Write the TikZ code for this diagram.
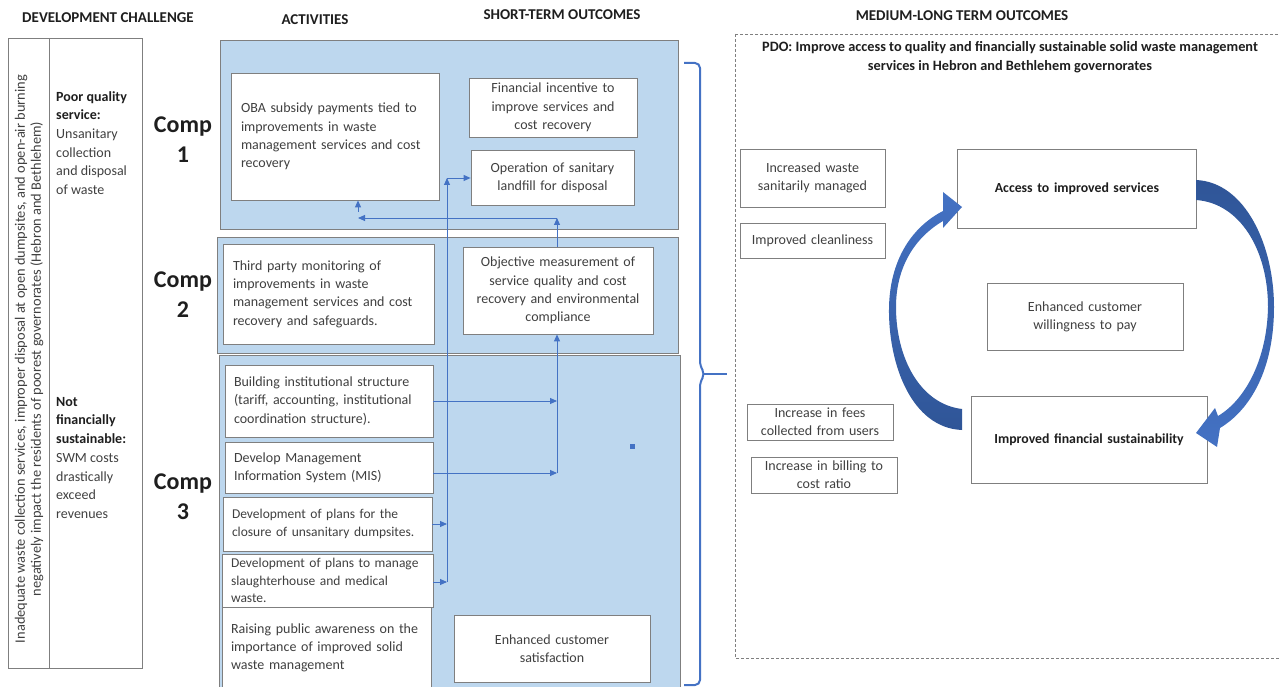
\documentclass[tikz,border=0pt]{standalone}
\usepackage{fontspec}
\setmainfont{Carlito}
\usetikzlibrary{arrows.meta}
\definecolor{panelblue}{RGB}{189,215,238}
\definecolor{linkblue}{RGB}{68,114,196}
\definecolor{loopdark}{RGB}{47,85,151}
\definecolor{boxgray}{RGB}{127,127,127}
\definecolor{txtgray}{RGB}{64,64,64}
\definecolor{darktxt}{RGB}{30,30,30}
\begin{document}
\begin{tikzpicture}
[x=1pt,y=-1pt,every node/.style={inner sep=0pt},
 head/.style={font=\bfseries\fontsize{15}{17}\selectfont,text=darktxt},
 comp/.style={font=\bfseries\fontsize{24}{30}\selectfont,align=center,text=darktxt},
 panel/.style={draw=boxgray,fill=panelblue,line width=0.8pt},
 abox/.style={draw=boxgray,fill=white,line width=0.8pt,text=txtgray,font=\fontsize{14}{18.3}\selectfont,align=left},
 obox/.style={abox,align=center},
 link/.style={draw=linkblue,line width=0.9pt,-{Triangle[length=7pt,width=6pt]}},
 bar/.style={draw=linkblue,line width=0.9pt}]
\useasboundingbox (0,0) rectangle (1280,687);

\node[head] (hdev) at (108,18) {DEVELOPMENT CHALLENGE};
\node[head] (hact) at (315,20) {ACTIVITIES};
\node[head] (hshort) at (562,15) {SHORT-TERM OUTCOMES};
\node[head] (hlong) at (962,16) {MEDIUM-LONG TERM OUTCOMES};

% development challenge
\draw[boxgray,line width=0.8pt] (8,38) rectangle (142,668);
\draw[boxgray,line width=0.8pt] (49,38) -- (49,668);
\node[rotate=90,align=center,text=txtgray,font=\fontsize{14.4}{16}\selectfont] (problem) at (29,359)
 {Inadequate waste collection services, improper disposal at open dumpsites, and open-air burning\\negatively impact the residents of poorest governorates (Hebron and Bethlehem)};
\node[anchor=north west,align=left,text=txtgray,font=\fontsize{14}{18.7}\selectfont] (poor) at (56,91)
 {{\color{darktxt}\bfseries Poor quality}\\{\color{darktxt}\bfseries service:}\\Unsanitary\\collection\\and disposal\\of waste};
\node[anchor=north west,align=left,text=txtgray,font=\fontsize{14}{18.7}\selectfont] (notfin) at (56,397)
 {{\color{darktxt}\bfseries Not}\\{\color{darktxt}\bfseries financially}\\{\color{darktxt}\bfseries sustainable:}\\SWM costs\\drastically\\exceed\\revenues};

\node[comp] (c1) at (183,140) {Comp\\1};
\node[comp] (c2) at (183,295) {Comp\\2};
\node[comp] (c3) at (183,497) {Comp\\3};

% component panels
\draw[panel] (220,40) rectangle (678,229);
\draw[panel] (217,237) rectangle (678,353);
\draw[panel] (219,355) rectangle (680,692);

\node[abox,minimum width=208,minimum height=127,text width=188] (oba) at (335,136.5)
 {OBA subsidy payments tied to\\improvements in waste\\management services and cost\\recovery};
\node[obox,minimum width=168,minimum height=59,text width=160] (incent) at (553,107.5)
 {Financial incentive to\\improve services and\\cost recovery};
\node[obox,minimum width=163,minimum height=55,text width=155] (landfill) at (552.5,177.5)
 {Operation of sanitary\\landfill for disposal};
\node[abox,minimum width=211,minimum height=100,text width=191] (third) at (328.5,294)
 {Third party monitoring of\\improvements in waste\\management services and cost\\recovery and safeguards.};
\node[obox,minimum width=190,minimum height=87,text width=182] (measure) at (558,290.5)
 {Objective measurement of\\service quality and cost\\recovery and environmental\\compliance};
\node[abox,minimum width=208,minimum height=72,text width=190] (inst) at (329,401)
 {Building institutional structure\\(tariff, accounting, institutional\\coordination structure).};
\node[abox,minimum width=208,minimum height=51,text width=190] (mis) at (329,467.5)
 {Develop Management\\Information System (MIS)};
\node[abox,minimum width=209,minimum height=54,text width=191,font=\fontsize{13.5}{17.7}\selectfont] (dumps) at (327.5,524)
 {Development of plans for the\\closure of unsanitary dumpsites.};
\node[abox,minimum width=211,minimum height=53,text width=193,font=\fontsize{13.5}{17.7}\selectfont] (slaught) at (327.5,580.5)
 {Development of plans to manage\\slaughterhouse and medical\\waste.};
\node[abox,minimum width=209,minimum height=82,text width=191] (aware) at (326.5,648)
 {Raising public awareness on the\\importance of improved solid\\waste management};
\node[obox,minimum width=196,minimum height=67,text width=186] (satisf) at (552,648.5)
 {Enhanced customer\\satisfaction};
\node[fill=linkblue,minimum size=5pt] (dot) at (632,446) {};

% links between activities and outcomes
\coordinate (lbot) at (447,582);
\coordinate (ltop) at (447,178);
\coordinate (rbot) at (557,473);
\coordinate (hj) at (557,218);
\coordinate (hl) at (358,218);
\draw[link] (lbot) -- (ltop);
\draw[bar] (ltop) -- (ltop -| 449,0);
\draw[link] (ltop) -- (ltop -| landfill.west);
\draw[link] (dumps.east) -- (dumps.east -| lbot);
\draw[link] (slaught.east |- lbot) -- (lbot);
\draw[bar] (rbot) -- (rbot |- inst.east);
\draw[link] (rbot) -- (rbot |- measure.south);
\draw[link] (inst.east) -- (inst.east -| rbot);
\draw[link] (mis.east |- rbot) -- (rbot);
\draw[link] (measure.north -| hj) -- (hj);
\draw[link] (hj) -- (hl);
\draw[link] ([yshift=6pt]hl) -- (hl |- oba.south);

% brace
\draw[linkblue,line width=2pt,rounded corners=5pt] (684,63) -- (700,63) -- (700,366) -- (705,374) -- (700,382) -- (700,685) -- (684,685);
\draw[linkblue,line width=2pt] (704,374) -- (727,374);

% medium-long term outcomes
\draw[boxgray,line width=0.8pt,dash pattern=on 3pt off 2pt] (735,34) rectangle (1290,658);
\node[align=center,text=darktxt,font=\bfseries\fontsize{14.3}{19}\selectfont] (pdo) at (1010,57.5)
 {PDO: Improve access to quality and financially sustainable solid waste management\\services in Hebron and Bethlehem governorates};
\node[obox,minimum width=145,minimum height=58,text width=139] (sanit) at (812.5,178)
 {Increased waste\\sanitarily managed};
\node[obox,minimum width=145,minimum height=35,text width=139] (clean) at (812.5,240.5)
 {Improved cleanliness};
\node[obox,minimum width=146,minimum height=36,text width=140] (fees) at (820,422)
 {Increase in fees\\collected from users};
\node[obox,minimum width=146,minimum height=36,text width=140] (billing) at (824,475)
 {Increase in billing to\\cost ratio};
\node[obox,minimum width=239,minimum height=79,text width=230,text=darktxt,font=\bfseries\fontsize{13.8}{18}\selectfont] (access) at (1077,188.5)
 {Access to improved services};
\node[obox,minimum width=196,minimum height=67,text width=188] (willing) at (1085,316.5)
 {Enhanced customer\\willingness to pay};
\node[obox,minimum width=236,minimum height=87,text width=228,text=darktxt,font=\bfseries\fontsize{13.8}{18}\selectfont] (finsus) at (1089,439.5)
 {Improved financial sustainability};

% loop arrows
\shade[top color=linkblue,bottom color=loopdark] (962,430) .. controls (912,428) and (888,365) .. (889,307)
 .. controls (890,262) and (910,228) .. (943,211) -- (943,192) -- (962,207) -- (943,228) -- (943,221)
 .. controls (914,238) and (896,268) .. (896,307) .. controls (896,358) and (920,404) .. (962,409) -- cycle;
\shade[top color=loopdark,bottom color=linkblue] (1196,180) .. controls (1245,182) and (1274,245) .. (1274,307)
 .. controls (1274,370) and (1250,410) .. (1220,428) -- (1217,447) -- (1196,433) -- (1215,408) -- (1218,416)
 .. controls (1245,400) and (1267,360) .. (1268,307) .. controls (1268,250) and (1240,203) .. (1196,200) -- cycle;
\end{tikzpicture}
\end{document}
